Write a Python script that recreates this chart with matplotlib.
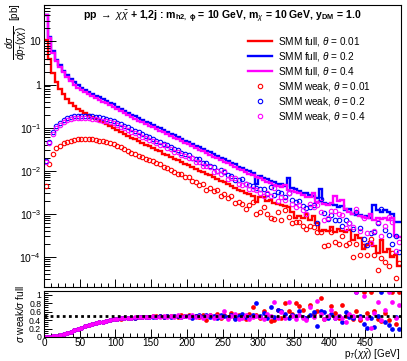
import numpy as np
import matplotlib
matplotlib.use("Agg")
import matplotlib.pyplot as plt
from matplotlib.ticker import FixedLocator, MultipleLocator, FuncFormatter, LogLocator, NullFormatter

plt.rcParams['font.family'] = ['Liberation Sans', 'DejaVu Sans']
plt.rcParams['mathtext.fontset'] = 'custom'
plt.rcParams['mathtext.rm'] = 'Liberation Sans'
plt.rcParams['mathtext.it'] = 'Liberation Sans:italic'
plt.rcParams['mathtext.bf'] = 'Liberation Sans:bold'

# ---------------- data (5 GeV bins, 0-500 GeV) ----------------
bin_edges_gev = list(range(0, 505, 5))
x_tick_labels = ["0", "50", "100", "150", "200", "250", "300", "350", "400", "450"]

full_theta_001 = [11, 4.0, 1.85, 1.15, 0.80, 0.60, 0.47, 0.38, 0.32, 0.275,
    0.245, 0.22, 0.197, 0.177, 0.160, 0.145, 0.133, 0.122, 0.110, 0.100,
    0.088, 0.080, 0.071, 0.065, 0.058, 0.053, 0.048, 0.044, 0.040, 0.0365,
    0.033, 0.030, 0.028, 0.025, 0.023, 0.021, 0.019, 0.0175, 0.016, 0.0145,
    0.0135, 0.0122, 0.0112, 0.0100, 0.0093, 0.0085, 0.0078, 0.0070, 0.0064, 0.0058,
    0.0055, 0.0049, 0.0045, 0.0040, 0.0036, 0.0034, 0.0031, 0.0029, 0.0026, 0.0019,
    0.0025, 0.0024, 0.0020, 0.0021, 0.0018, 0.0017, 0.0016, 0.0015, 0.0014, 0.0011,
    0.0008, 0.0009, 0.0008, 0.0010, 0.0007, 0.0009, 0.0006, 0.0004, 0.00042, 0.0004,
    0.0005, 0.00038, 0.00045, 0.0004, 0.00037, 0.00041, 0.00024, 0.00032, 0.00028, 0.00015,
    0.00019, 0.00022, 0.00018, 0.00012, 0.00025, 0.00013, 0.00015, 0.0001, 0.00011, 0.00006]

full_theta_02 = [42, 12.9, 6.0, 3.8, 2.8, 2.1, 1.65, 1.35, 1.12, 0.96,
    0.85, 0.76, 0.68, 0.61, 0.55, 0.50, 0.46, 0.42, 0.38, 0.345,
    0.30, 0.275, 0.245, 0.224, 0.20, 0.182, 0.166, 0.151, 0.138, 0.126,
    0.115, 0.105, 0.096, 0.087, 0.080, 0.072, 0.066, 0.061, 0.055, 0.050,
    0.047, 0.042, 0.038, 0.036, 0.032, 0.029, 0.027, 0.024, 0.022, 0.020,
    0.0185, 0.0166, 0.0148, 0.0142, 0.0124, 0.0118, 0.0103, 0.0097, 0.0087, 0.0050,
    0.0074, 0.0066, 0.0064, 0.0058, 0.0056, 0.0050, 0.0049, 0.0044, 0.0068, 0.0040,
    0.0037, 0.0033, 0.0031, 0.0030, 0.0027, 0.0026, 0.0023, 0.0037, 0.0018, 0.0017,
    0.0017, 0.0016, 0.0014, 0.0015, 0.0012, 0.0013, 0.0010, 0.00092, 0.00095, 0.00085,
    0.0009, 0.0008, 0.0016, 0.0012, 0.0011, 0.0012, 0.0011, 0.0010, 0.00065, 0.00065]

full_theta_04 = [40, 12.0, 5.5, 3.5, 2.55, 1.9, 1.48, 1.2, 1.0, 0.85,
    0.75, 0.67, 0.60, 0.54, 0.485, 0.44, 0.40, 0.37, 0.335, 0.305,
    0.265, 0.24, 0.215, 0.195, 0.176, 0.160, 0.146, 0.132, 0.121, 0.110,
    0.101, 0.092, 0.084, 0.077, 0.070, 0.064, 0.058, 0.053, 0.049, 0.044,
    0.041, 0.037, 0.034, 0.031, 0.028, 0.026, 0.0235, 0.021, 0.0195, 0.0175,
    0.016, 0.0148, 0.0132, 0.0122, 0.0110, 0.0102, 0.0093, 0.0085, 0.0078, 0.0070,
    0.0066, 0.0060, 0.0055, 0.0053, 0.0047, 0.0044, 0.0042, 0.0046, 0.0036, 0.0034,
    0.0032, 0.0030, 0.0027, 0.0025, 0.0024, 0.0030, 0.0019, 0.0020, 0.0017, 0.0016,
    0.0018, 0.0026, 0.0020, 0.0021, 0.0013, 0.0011, 0.0010, 0.0011, 0.0009, 0.00085,
    0.0008, 0.0010, 0.0007, 0.0008, 0.00075, 0.0008, 0.00072, 0.0008, 0.0003, 0.00029]

weak_theta_001 = [0.0044, 0.0144, 0.024, 0.033, 0.037, 0.043, 0.0465, 0.049, 0.052, 0.054,
    0.055, 0.055, 0.054, 0.053, 0.052, 0.050, 0.048, 0.046, 0.044, 0.042,
    0.038, 0.035, 0.0316, 0.029, 0.0264, 0.0244, 0.0223, 0.0207, 0.0188, 0.0173,
    0.0165, 0.0147, 0.014, 0.012, 0.0117, 0.0103, 0.0095, 0.0082, 0.0082, 0.0071,
    0.0070, 0.0059, 0.0056, 0.0047, 0.0049, 0.0035, 0.0040, 0.0034, 0.0035, 0.00255,
    0.00286, 0.00235, 0.0026, 0.0018, 0.0019, 0.0017, 0.0013, 0.0016, 0.00185, 0.0010,
    0.0011, 0.00146, 0.0010, 0.0008, 0.00074, 0.0011, 0.00072, 0.0012, 0.00085, 0.0006,
    0.00064, 0.00066, 0.00051, 0.00045, 0.00053, 0.0005, 0.00037, 0.00037, 0.00018, 0.00019,
    0.00037, 0.00022, 0.0002, 0.0003, 0.000185, 0.00021, 0.0001, 0.0002, 0.00011, 0.00018,
    0.00011, 0.00026, 0.00011, 0.00005, 0.000095, 0.000075, 0.00006, 0.00012, 0.000033, 0.000072]

weak_theta_02 = [0.017, 0.047, 0.077, 0.11, 0.13, 0.15, 0.163, 0.175, 0.183, 0.188,
    0.19, 0.19, 0.188, 0.184, 0.179, 0.173, 0.167, 0.16, 0.152, 0.145,
    0.129, 0.121, 0.109, 0.101, 0.091, 0.084, 0.077, 0.071, 0.065, 0.060,
    0.055, 0.049, 0.047, 0.042, 0.040, 0.0346, 0.0323, 0.0305, 0.0259, 0.0245,
    0.0235, 0.0193, 0.0186, 0.0184, 0.0154, 0.0151, 0.0127, 0.0120, 0.0097, 0.0106,
    0.0091, 0.0078, 0.0077, 0.0062, 0.0062, 0.0065, 0.0049, 0.0046, 0.0045, 0.0040,
    0.0037, 0.0037, 0.0029, 0.0041, 0.0027, 0.0032, 0.0030, 0.0024, 0.0031, 0.0021,
    0.00185, 0.0020, 0.00149, 0.00135, 0.00143, 0.00156, 0.0006, 0.00226, 0.00106, 0.00077,
    0.00094, 0.00072, 0.0007, 0.00053, 0.00071, 0.00062, 0.00045, 0.0011, 0.00048, 0.00026,
    0.00019, 0.00036, 0.00037, 0.0006, 0.0013, 0.00043, 0.00032, 0.0002, 0.00031, 0.00013]

weak_theta_04 = [0.016, 0.043, 0.0715, 0.10, 0.117, 0.135, 0.147, 0.156, 0.163, 0.167,
    0.168, 0.1675, 0.166, 0.162, 0.158, 0.152, 0.145, 0.141, 0.134, 0.128,
    0.114, 0.106, 0.096, 0.088, 0.080, 0.074, 0.068, 0.062, 0.057, 0.052,
    0.0495, 0.0442, 0.0395, 0.0385, 0.0336, 0.0314, 0.0273, 0.0276, 0.0235, 0.022,
    0.0193, 0.0192, 0.0163, 0.0155, 0.0129, 0.0127, 0.0125, 0.0095, 0.0098, 0.0082,
    0.0098, 0.0064, 0.0066, 0.0067, 0.0048, 0.0047, 0.0048, 0.0037, 0.0037, 0.0035,
    0.0031, 0.0026, 0.0030, 0.00265, 0.0039, 0.0020, 0.0025, 0.0021, 0.0030, 0.0017,
    0.0014, 0.00156, 0.00122, 0.0010, 0.00168, 0.00144, 0.00163, 0.0011, 0.00071, 0.0008,
    0.00115, 0.00114, 0.0010, 0.00095, 0.00046, 0.0006, 0.0005, 0.0013, 0.0004, 0.00082,
    0.00036, 0.00021, 0.00039, 0.00066, 0.0003, 0.00052, 0.00086, 0.00066, 0.000135, 0.00022]

thetas = ["0.01", "0.2", "0.4"]
colors = ["#ff0000", "#0000ff", "#ff00ff"]

title_text = (r"pp $\rightarrow$ $\chi\bar{\chi}$ + 1,2j : m$_{\mathbf{h2,\ \phi}}$ = 10 GeV, "
              r"m$_{\chi}$ = 10 GeV, y$_{\mathbf{DM}}$ = 1.0")

# ---------------- figure ----------------
W, H = 407, 361
fig = plt.figure(figsize=(W / 100, H / 100), dpi=100)

def px_axes(l, t, r, b):
    return fig.add_axes([l / W, 1 - b / H, (r - l) / W, (b - t) / H])

ax = px_axes(44, 5, 401, 287)
axr = px_axes(44, 291, 401, 337)

edges = np.array(bin_edges_gev, dtype=float)
centers = 0.5 * (edges[:-1] + edges[1:])
fulls = [np.array(full_theta_001), np.array(full_theta_02), np.array(full_theta_04)]
weaks = [np.array(weak_theta_001), np.array(weak_theta_02), np.array(weak_theta_04)]

for f, c, t in zip(fulls, colors, thetas):
    ax.stairs(f, edges, color=c, lw=1.7, baseline=None,
              label=r"SMM full, $\theta$ = " + t)
for w, c, t in zip(weaks, colors, thetas):
    ax.plot(centers, w, ls="none", marker="o", ms=3.2, mfc="none", mec=c, mew=0.8,
            label=r"SMM weak, $\theta$ = " + t)

ax.set_yscale("log")
ax.set_xlim(0, 500)
ax.set_ylim(2.0e-5, 70)
ax.yaxis.set_major_locator(FixedLocator([1e-4, 1e-3, 1e-2, 1e-1, 1, 10]))
def yfmt(v, pos):
    e = int(round(np.log10(v)))
    if e == 0:
        return "1"
    if e == 1:
        return "10"
    return r"$10^{%d}$" % e
ax.yaxis.set_major_formatter(FuncFormatter(yfmt))
ax.yaxis.set_minor_locator(LogLocator(base=10, subs=np.arange(2, 10), numticks=20))
ax.yaxis.set_minor_formatter(NullFormatter())
ax.xaxis.set_major_locator(MultipleLocator(50))
ax.xaxis.set_minor_locator(MultipleLocator(10))
ax.tick_params(axis="x", which="both", labelbottom=False, direction="in")
ax.tick_params(axis="x", which="major", length=5.5, width=0.7)
ax.tick_params(axis="x", which="minor", length=2.8, width=0.7)
ax.tick_params(axis="y", which="major", direction="in", length=8.5, width=0.7, labelsize=7.5, pad=2)
ax.tick_params(axis="y", which="minor", direction="in", length=4.3, width=0.7)
for s in ax.spines.values():
    s.set_linewidth(0.8)

ax.text(0.5, 0.957, title_text, transform=ax.transAxes, ha="center", va="center",
        fontsize=7.6, fontweight="bold")

leg = ax.legend(loc="upper left", bbox_to_anchor=(0.572, 0.895), frameon=False,
                fontsize=7.2, borderpad=0, labelspacing=0.2, handlelength=2.4,
                handletextpad=0.55, borderaxespad=0)

fig.text(4 / W, 1 - 3 / H, r"$\dfrac{d\sigma}{dp_{T}(\chi\bar{\chi})}$  [pb]",
         rotation=90, ha="left", va="top", fontsize=7.0)

# ---------------- ratio panel ----------------
ratio_top = 1.07
for f, w, c in zip(fulls, weaks, colors):
    r = np.minimum(w / f, ratio_top)
    axr.plot(centers, r, ls="none", marker="o", ms=3.4, mfc=c, mec=c, mew=0)
axr.plot([0, 500], [0.5, 0.5], color="black", lw=2.0, ls=(0, (1, 1.2)))
axr.set_xlim(0, 500)
axr.set_ylim(0, 1.09)
axr.yaxis.set_major_locator(FixedLocator([0, 0.2, 0.4, 0.6, 0.8, 1.0]))
axr.yaxis.set_major_formatter(FuncFormatter(lambda v, p: "0" if v == 0 else ("1" if abs(v - 1) < 1e-9 else "%.1f" % v)))
axr.yaxis.set_minor_locator(MultipleLocator(0.05))
axr.set_xticks([float(s) for s in x_tick_labels])
axr.set_xticklabels(x_tick_labels)
axr.xaxis.set_minor_locator(MultipleLocator(10))
axr.tick_params(axis="x", which="major", direction="in", length=5.5, width=0.7, labelsize=7.2, pad=0.5)
axr.tick_params(axis="x", which="minor", direction="in", length=2.8, width=0.7)
axr.tick_params(axis="y", which="major", direction="in", length=6, width=0.7, labelsize=6.2, pad=2)
axr.tick_params(axis="y", which="minor", direction="in", length=3, width=0.7)
for s in axr.spines.values():
    s.set_linewidth(0.8)
fig.text(400 / W, 1 - 357 / H, r"p$_{T}$($\chi\bar{\chi}$) [GeV]", fontsize=7.0,
         ha="right", va="baseline")
fig.text(20 / W, 1 - 314 / H, r"$\sigma$ weak/$\sigma$ full", rotation=90,
         ha="center", va="center", fontsize=7.2)

fig.savefig("out.png", dpi=100)
